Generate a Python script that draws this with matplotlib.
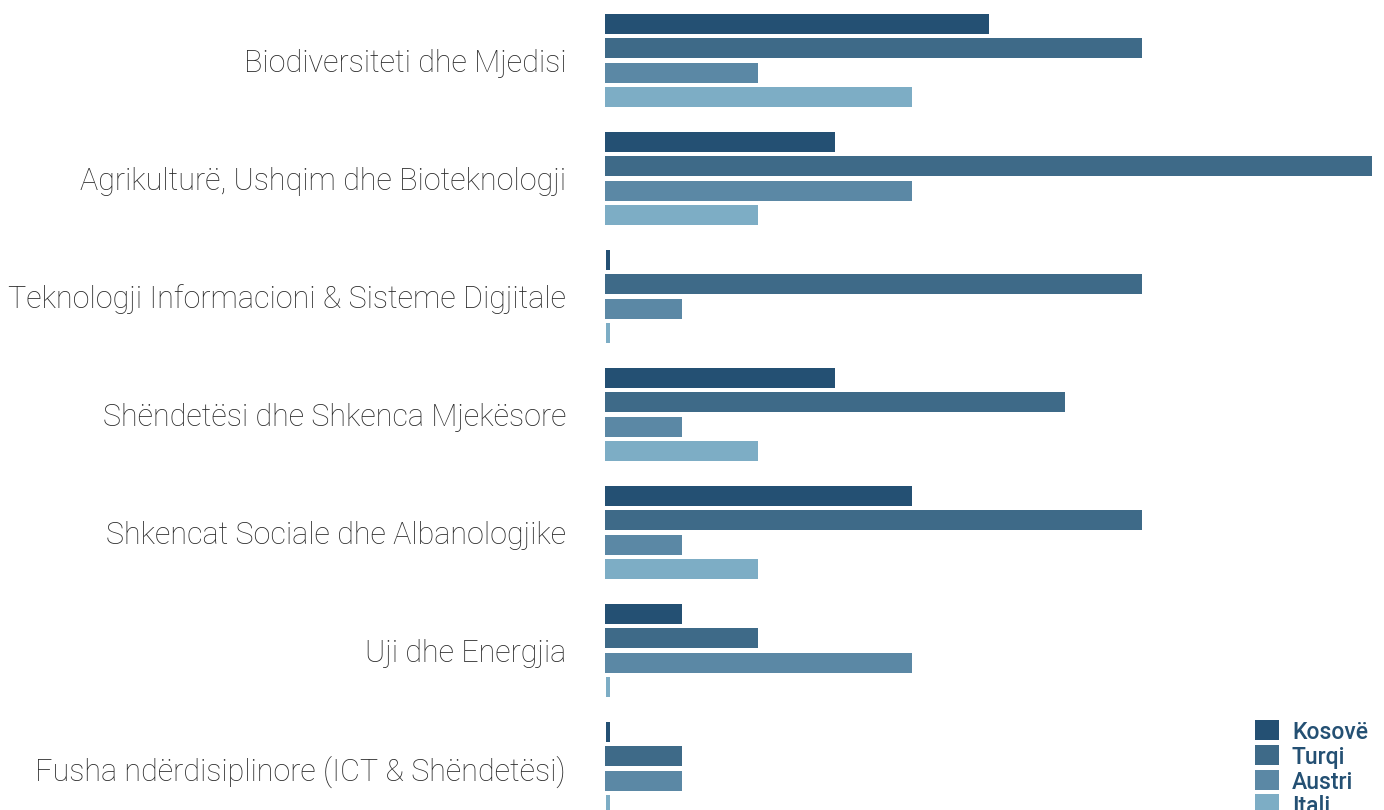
import matplotlib
matplotlib.use("Agg")
import matplotlib.pyplot as plt
import numpy as np
from matplotlib.patches import Rectangle

categories = [
    "Biodiversiteti dhe Mjedisi",
    "Agrikulturë, Ushqim dhe Bioteknologji",
    "Teknologji Informacioni & Sisteme Digjitale",
    "Shëndetësi dhe Shkenca Mjekësore",
    "Shkencat Sociale dhe Albanologjike",
    "Uji dhe Energjia",
    "Fusha ndërdisiplinore (ICT & Shëndetësi)",
]
series_names = ["Kosovë", "Turqi", "Austri", "Itali"]
kosove = [5, 3, 0, 3, 4, 1, 0]
turqi = [7, 10, 7, 6, 7, 2, 1]
austri = [2, 4, 1, 1, 1, 4, 1]
itali = [4, 2, 0, 2, 2, 0, 0]
series_values = [kosove, turqi, austri, itali]
colors = ["#245073", "#3E6A88", "#5B88A5", "#7DADC5"]

W, H = 1384, 810
fig = plt.figure(figsize=(W / 100, H / 100), dpi=100)
top_px, bot_px = 1.5, 827.5
left_px, right_px = 605, 1372
ax = fig.add_axes([left_px / W, 1 - bot_px / H, (right_px - left_px) / W, (bot_px - top_px) / H])

pitch = 0.2075
bh = 0.166
min_w = 0.06
y = np.arange(len(categories))
for j, (vals, c) in enumerate(zip(series_values, colors)):
    v = np.array(vals, dtype=float)
    disp = np.where(v == 0, min_w, v)
    left = np.where(v == 0, 0.01, 0.0)
    ax.barh(y + (j - 1.5) * pitch, disp, height=bh, left=left, color=c, linewidth=0)

ax.set_xlim(0, 10)
ax.set_ylim(len(categories) - 0.5, -0.5)
ax.set_yticks(y)
ax.set_yticklabels(categories, fontsize=22, color="#2a2a2a", fontfamily="Roboto", fontweight="light")
ax.tick_params(axis="y", length=0, pad=28)
ax.set_xticks([])
for s in ax.spines.values():
    s.set_visible(False)

# legend (manual, in figure pixels)
sq_x, sq_w, sq_h = 1255, 24, 20
row_y0, row_pitch = 720, 24.8
for j, (name, c) in enumerate(zip(series_names, colors)):
    ytop = row_y0 + j * row_pitch
    fig.patches.append(Rectangle((sq_x / W, 1 - (ytop + sq_h) / H), sq_w / W, sq_h / H,
                                 transform=fig.transFigure, facecolor=c, edgecolor="none"))
    fig.text(1292 / W, 1 - (ytop + sq_h / 2) / H, name, ha="left", va="center_baseline",
             fontsize=16.5, color="#245073", fontfamily="Roboto", fontweight="medium")

fig.savefig("out.png", dpi=100)
